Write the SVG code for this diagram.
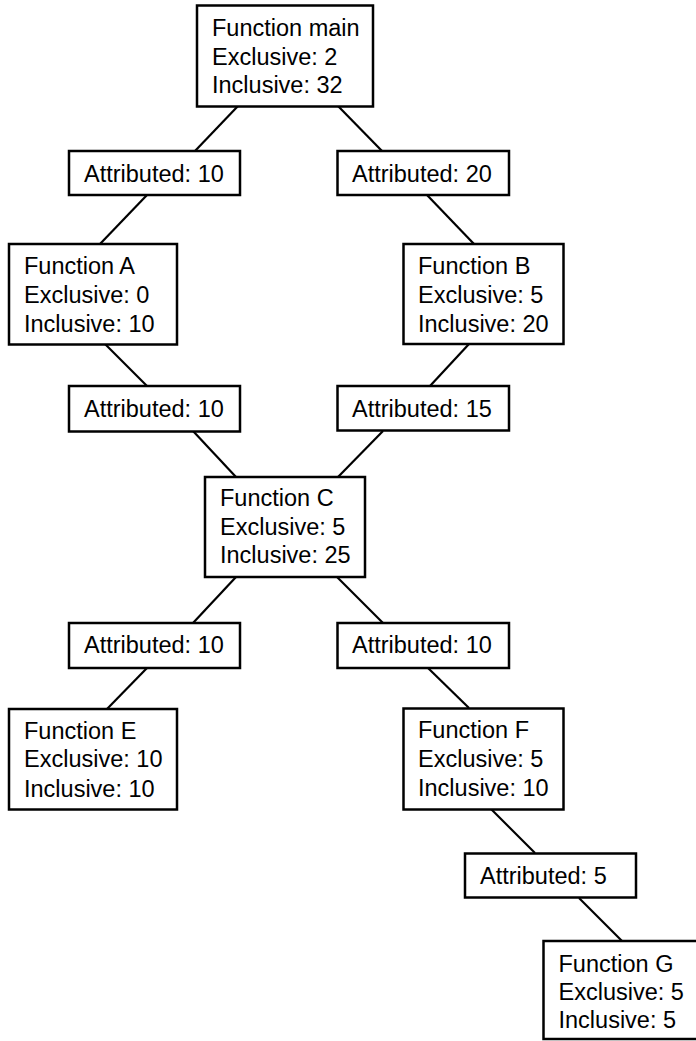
<svg xmlns="http://www.w3.org/2000/svg" width="696" height="1041" viewBox="0 0 696 1041">
<style>
rect{fill:#fff;stroke:#000;stroke-width:2.5}
text{font-family:"Liberation Sans",Arial,sans-serif;font-size:23.5px;fill:#000}
#connectors line{stroke:#000;stroke-width:2.2}
</style>
<rect x="0" y="0" width="696" height="1041" style="stroke:none"/>
<g id="connectors">
<line x1="238" y1="106" x2="195" y2="151"/>
<line x1="338" y1="106" x2="382" y2="151"/>
<line x1="147" y1="195" x2="100" y2="244"/>
<line x1="427" y1="195" x2="474" y2="244"/>
<line x1="105" y1="344" x2="147" y2="386"/>
<line x1="469" y1="344" x2="430" y2="386"/>
<line x1="193" y1="431" x2="236" y2="477"/>
<line x1="383" y1="431" x2="338" y2="477"/>
<line x1="236" y1="577" x2="193" y2="623"/>
<line x1="337" y1="577" x2="383" y2="623"/>
<line x1="147" y1="668" x2="107" y2="709"/>
<line x1="428" y1="668" x2="469" y2="708"/>
<line x1="491" y1="809" x2="535" y2="853"/>
<line x1="579" y1="898" x2="622" y2="941"/>
</g>
<g id="main"><rect x="197" y="5.5" width="176" height="101"/><text x="212" y="36">Function main</text><text x="212" y="64.5">Exclusive: 2</text><text x="212" y="93">Inclusive: 32</text></g>
<g id="attr-main-a"><rect x="69" y="151" width="171" height="44"/><text x="84" y="181.5">Attributed: 10</text></g>
<g id="attr-main-b"><rect x="337.5" y="151" width="171.5" height="44"/><text x="352" y="181.5">Attributed: 20</text></g>
<g id="funcA"><rect x="9" y="244" width="168" height="100.5"/><text x="24" y="274.3">Function A</text><text x="24" y="303">Exclusive: 0</text><text x="24" y="331.5">Inclusive: 10</text></g>
<g id="funcB"><rect x="403.5" y="244" width="160" height="100"/><text x="418" y="274.3">Function B</text><text x="418" y="303">Exclusive: 5</text><text x="418" y="331.5">Inclusive: 20</text></g>
<g id="attr-a-c"><rect x="69" y="386" width="171" height="45.5"/><text x="84" y="417">Attributed: 10</text></g>
<g id="attr-b-c"><rect x="337.5" y="386" width="171.5" height="44.5"/><text x="352" y="417">Attributed: 15</text></g>
<g id="funcC"><rect x="205" y="477" width="160" height="100"/><text x="220" y="506">Function C</text><text x="220" y="534.5">Exclusive: 5</text><text x="220" y="563.3">Inclusive: 25</text></g>
<g id="attr-c-e"><rect x="69" y="623" width="171" height="45"/><text x="84" y="653">Attributed: 10</text></g>
<g id="attr-c-f"><rect x="337.5" y="623" width="171.5" height="45"/><text x="352" y="653">Attributed: 10</text></g>
<g id="funcE"><rect x="9" y="709" width="168" height="100.5"/><text x="24" y="738.5">Function E</text><text x="24" y="767">Exclusive: 10</text><text x="24" y="796.5">Inclusive: 10</text></g>
<g id="funcF"><rect x="403.5" y="708.5" width="160" height="101"/><text x="418" y="738">Function F</text><text x="418" y="766.5">Exclusive: 5</text><text x="418" y="796">Inclusive: 10</text></g>
<g id="attr-f-g"><rect x="465" y="853.5" width="171" height="44"/><text x="480" y="884">Attributed: 5</text></g>
<g id="funcG"><rect x="543.5" y="941" width="165" height="98"/><text x="558.5" y="971.7">Function G</text><text x="558.5" y="1000">Exclusive: 5</text><text x="558.5" y="1028.3">Inclusive: 5</text></g>
</svg>
